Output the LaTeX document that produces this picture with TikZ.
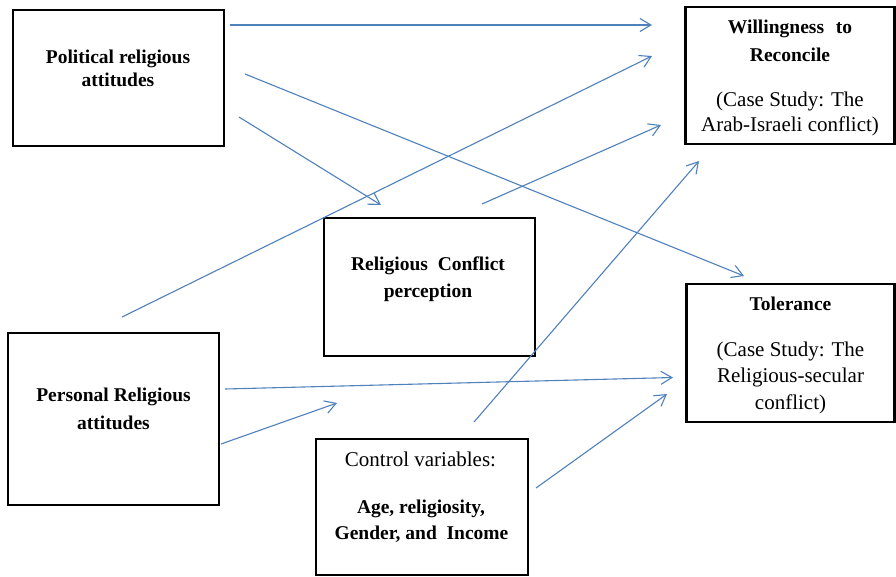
\documentclass[tikz,border=0pt]{standalone}
\usepackage{fontspec}
\setmainfont{Liberation Serif}
\usetikzlibrary{arrows.meta}
\definecolor{lineblue}{RGB}{79,129,189}
\begin{document}
\begin{tikzpicture}[x=1pt,y=-1pt,
  box/.style={draw=black, line width=2.6pt, inner sep=0pt, fill=white},
  ttl/.style={anchor=base, inner sep=0pt, font=\fontsize{19.5}{23}\selectfont\bfseries},
  sub/.style={anchor=base, inner sep=0pt, font=\fontsize{21}{25}\selectfont},
  conn/.style={draw=lineblue, line width=1.1pt, -{Straight Barb[length=11pt,width=13pt,line width=1.1pt]}}]
\useasboundingbox (0,0) rectangle (896,576);
\fill[white] (0,0) rectangle (896,576);

% boxes
\node[box, minimum width=211pt, minimum height=136pt] (pol) at (118.5,78) {};
\node[box, minimum width=209pt, minimum height=137pt] (wil) at (790,75.5) {};
\node[box, minimum width=211pt, minimum height=138pt] (rcp) at (429.5,287) {};
\node[box, minimum width=208pt, minimum height=138pt] (tol) at (790.5,353) {};
\node[box, minimum width=211pt, minimum height=172pt] (per) at (113.5,419) {};
\node[box, minimum width=212pt, minimum height=136pt] (ctl) at (422,507) {};

% texts
\node[ttl] (pol1) at (118,63) {Political religious};
\node[ttl] (pol2) at (118,86) {attitudes};
\node[ttl] (wil1) at (790,33) {Willingness\hspace{0.35em} to};
\node[ttl] (wil2) at (790,61) {Reconcile};
\node[sub] (wil3) at (790,106) {(Case Study: The};
\node[sub] (wil4) at (790,131.5) {Arab-Israeli conflict)};
\node[ttl] (rcp1) at (428,270.5) {Religious\hspace{0.25em} Conflict};
\node[ttl] (rcp2) at (428,297.3) {perception};
\node[ttl] (tol1) at (790.5,310.5) {Tolerance};
\node[sub] (tol2) at (790.5,356) {(Case Study: The};
\node[sub] (tol3) at (790.5,382.5) {Religious-secular};
\node[sub] (tol4) at (790.5,409.5) {conflict)};
\node[ttl] (per1) at (113.5,401.5) {Personal Religious};
\node[ttl] (per2) at (113.5,429.3) {attitudes};
\node[sub] (ctl1) at (420.5,466.5) {Control variables:};
\node[ttl] (ctl2) at (421,513.3) {Age, religiosity,};
\node[ttl] (ctl3) at (421.5,539) {Gender, and\hspace{0.25em} Income};

% connector ends
\coordinate (a1s) at (230,25);  \coordinate (a1e) at (652,25);
\coordinate (a2s) at (245,74);  \coordinate (a2e) at (744,276);
\coordinate (a3s) at (239,117); \coordinate (a3e) at (381,205);
\coordinate (a4s) at (122,317); \coordinate (a4e) at (652,56);
\coordinate (a5s) at (482,204); \coordinate (a5e) at (661,125);
\coordinate (a6s) at (225,389); \coordinate (a6e) at (673,377.5);
\coordinate (a7s) at (221,444); \coordinate (a7e) at (337,403);
\coordinate (a8s) at (474,422); \coordinate (a8e) at (699,161);
\coordinate (a9s) at (536,488); \coordinate (a9e) at (667,394);

\foreach \i in {1,...,9} {\draw[conn] (a\i s) -- (a\i e);}
\end{tikzpicture}
\end{document}
